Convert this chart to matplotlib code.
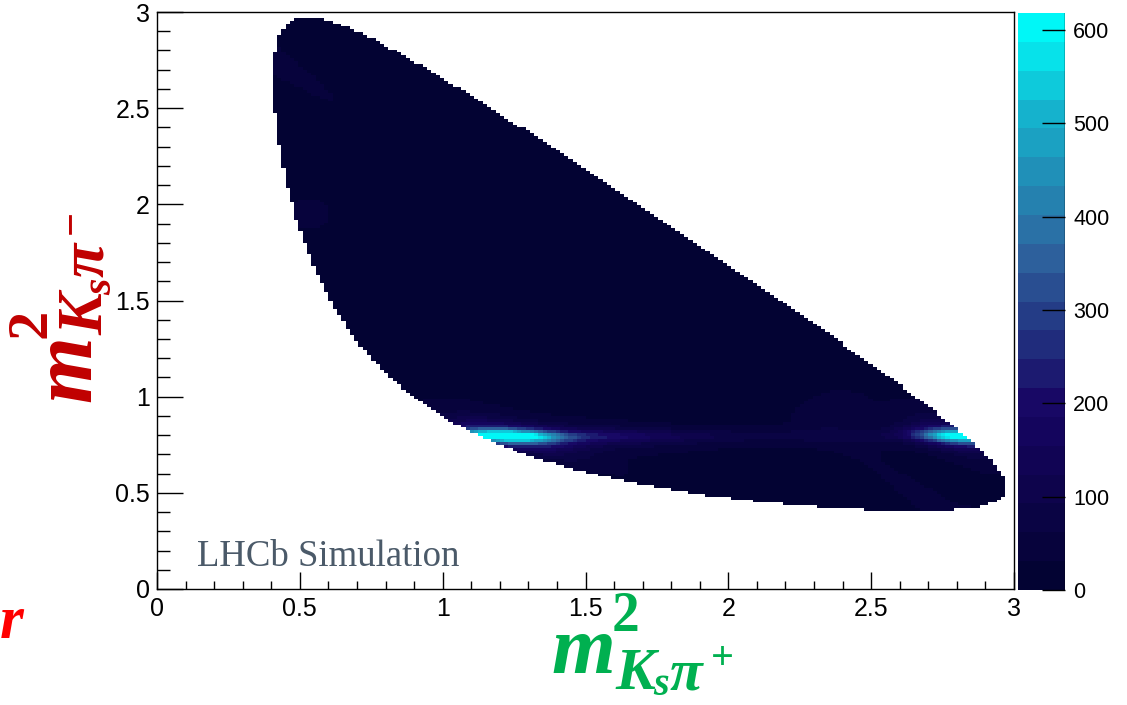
import numpy as np
import matplotlib
matplotlib.use("Agg")
import matplotlib.pyplot as plt
from matplotlib.colors import LinearSegmentedColormap, ListedColormap, BoundaryNorm

# ---------------- data / model parameters ----------------
M_D, M_KS, M_PI = 1.86484, 0.497611, 0.13957      # GeV
n_bins = 200
axis_lo, axis_hi = 0.0, 3.0
axis_ticks = [0, 0.5, 1, 1.5, 2, 2.5, 3]
axis_ticklabels = ["0", "0.5", "1", "1.5", "2", "2.5", "3"]
z_max = 618.0
n_levels = 20
cbar_ticks = [0, 100, 200, 300, 400, 500, 600]

# K*(892)- band in m2(Ks pi-)
kst_mass, kst_width = 0.8917, 0.040
kst_height = 600.0
kst_lobe_cos = [-0.90, -0.60, 0.975]
kst_lobe_sigma = [0.15, 0.30, 0.12]
kst_lobe_weight = [1.0, 0.25, 1.0]
kst_floor = 0.10

# rho(770) band in m2(pi pi)
rho_mass, rho_width = 0.775, 0.149
rho_height = 34.0

# faint extra structures
blob_x = [0.53, 2.38]
blob_y = [1.95, 0.95]
blob_sigma = [0.07, 0.10]
blob_height = [38.0, 26.0]
base_level = 8.0

# kDeepSea palette (ROOT)
pal_stops = [0.00, 0.34, 0.61, 0.84, 1.00]
pal_red = [0.00, 0.09, 0.18, 0.09, 0.00]
pal_green = [0.01, 0.02, 0.39, 0.68, 0.97]
pal_blue = [0.17, 0.39, 0.62, 0.79, 0.97]

# axis-title pieces: (text, along-offset px, up-offset px, size pt, italic)
title_x_pieces = [("m", 0, 0, 59, True), ("2", 61, 42, 40, False),
                  ("K", 64, -16, 43, True), ("s", 102, -22, 29, True),
                  ("π", 119, -16, 43, True), ("+", 160, 4, 29, False)]
title_y_pieces = [("m", 0, 0, 59, True), ("2", 61, 42, 40, False),
                  ("K", 64, -12, 43, True), ("s", 102, -20, 29, True),
                  ("π", 119, -12, 43, True), ("−", 160, 8, 29, False)]


# ---------------- kinematics ----------------
def pair_range(s_ij, mi, mj, mk):
    sq = np.sqrt(s_ij)
    Ei = (s_ij + mi**2 - mj**2) / (2 * sq)
    Ek = (M_D**2 - s_ij - mk**2) / (2 * sq)
    ok = (Ei >= mi) & (Ek >= mk)
    pi = np.sqrt(np.clip(Ei**2 - mi**2, 0, None))
    pk = np.sqrt(np.clip(Ek**2 - mk**2, 0, None))
    smax = (Ei + Ek) ** 2 - (pi - pk) ** 2
    smin = (Ei + Ek) ** 2 - (pi + pk) ** 2
    return smin, smax, ok


def hel_cos(s_ij, s_ik, mi, mj, mk):
    smin, smax, ok = pair_range(s_ij, mi, mj, mk)
    c = (2 * s_ik - smax - smin) / np.where(smax - smin > 0, smax - smin, 1e-9)
    return c, ok


def bw(s, m, g):
    return (m * g) ** 2 / ((m**2 - s) ** 2 + (m * g) ** 2)


edges = np.linspace(axis_lo, axis_hi, n_bins + 1)
centres = 0.5 * (edges[:-1] + edges[1:])
X, Y = np.meshgrid(centres, centres)          # X = m2(Ks pi+), Y = m2(Ks pi-)
S_pp = M_D**2 + M_KS**2 + 2 * M_PI**2 - X - Y

c_in, ok_in = hel_cos(X, Y, M_KS, M_PI, M_PI)
inside = ok_in & (np.abs(c_in) <= 1.0)

c_kst, _ = hel_cos(Y, X, M_KS, M_PI, M_PI)
lobes = sum(w * np.exp(-(c_kst - c0) ** 2 / (2 * s**2))
            for c0, s, w in zip(kst_lobe_cos, kst_lobe_sigma, kst_lobe_weight))
I = base_level + kst_height * bw(Y, kst_mass, kst_width) * (lobes + kst_floor)

c_rho, _ = hel_cos(np.clip(S_pp, 1e-6, None), X, M_PI, M_PI, M_KS)
I += rho_height * bw(S_pp, rho_mass, rho_width) * np.clip(c_rho, -1, 1) ** 2

for bx, by, bs, bh in zip(blob_x, blob_y, blob_sigma, blob_height):
    I += bh * np.exp(-((X - bx) ** 2 + (Y - by) ** 2) / (2 * bs**2))

I = np.clip(I, 0, z_max - 1)
Z = np.ma.masked_where(~inside, I)

# ---------------- colours ----------------
grad = LinearSegmentedColormap.from_list(
    "deepsea", list(zip(pal_stops, zip(pal_red, pal_green, pal_blue))))
level_cols = [grad((i + 0.99) / n_levels) for i in range(n_levels)]
cmap = ListedColormap(level_cols)
cmap.set_bad((1, 1, 1, 0))
levels = np.linspace(0, z_max, n_levels + 1)
norm = BoundaryNorm(levels, n_levels)

# ---------------- figure ----------------
plt.rcParams["font.family"] = ["Liberation Sans", "DejaVu Sans"]

W, H = 1127, 705
fig = plt.figure(figsize=(W / 100, H / 100), dpi=100)
ax = fig.add_axes([157 / W, 1 - 589 / H, (1014 - 157) / W, (589 - 12) / H])
mesh = ax.pcolormesh(edges, edges, Z, cmap=cmap, norm=norm, shading="flat")
ax.set_xlim(axis_lo, axis_hi)
ax.set_ylim(axis_lo, axis_hi)
ax.set_xticks(axis_ticks)
ax.set_xticklabels(axis_ticklabels)
ax.set_yticks(axis_ticks)
ax.set_yticklabels(axis_ticklabels)
ax.set_xticks(np.arange(0, 3.001, 0.1), minor=True)
ax.set_yticks(np.arange(0, 3.001, 0.1), minor=True)
ax.tick_params(axis="x", which="major", direction="in", length=12.3, width=1.0,
               labelsize=18, pad=6, top=False)
ax.tick_params(axis="x", which="minor", direction="in", length=6.1, width=1.0, top=False)
ax.tick_params(axis="y", which="major", direction="in", length=18.5, width=1.0,
               labelsize=18, pad=5, right=False)
ax.tick_params(axis="y", which="minor", direction="in", length=9.2, width=1.0, right=False)
for sp in ax.spines.values():
    sp.set_linewidth(1.0)

ax.text(0.14, 0.12, "LHCb Simulation", fontsize=26.5, color="#4b5a69",
        family="Liberation Serif", va="baseline", ha="left")

cax = fig.add_axes([1018 / W, 1 - 590 / H, 47 / W, (590 - 13) / H])
cb = fig.colorbar(mesh, cax=cax, ticks=cbar_ticks)
cb.outline.set_visible(False)
cax.tick_params(direction="in", length=16.5, width=1.0, labelsize=15.5, pad=6,
                right=True, left=False)
cax.yaxis.set_ticks_position("right")
cax.axvline(1.0, color="black", lw=1.0)
cax.minorticks_off()


def put(txt, xpx, ypx, size, italic, color, rot):
    fig.text(xpx / W, 1 - ypx / H, txt, color=color, fontsize=size,
             family=["Liberation Serif", "DejaVu Serif"], weight="bold",
             style="italic" if italic else "normal", ha="left", va="baseline",
             rotation=rot, rotation_mode="anchor")


# x-axis title (green), origin = baseline-left of "m"
ox, oy = 551, 673
for txt, d, h, s, it in title_x_pieces:
    put(txt, ox + d, oy - h, s, it, "#00b050", 0)

# y-axis title (dark red), rotated 90 degrees
k = 1.05
oxr, oyr = 90, 402
for txt, d, h, s, it in title_y_pieces:
    put(txt, oxr - h * k, oyr - d * k, s * k, it, "#c00000", 90)

fig.text(0.0, 1 - 638 / H, "r", color="#ff0000", fontsize=44,
         family="Liberation Serif", weight="bold", style="italic",
         ha="left", va="baseline")

fig.savefig("out.png", dpi=100)
